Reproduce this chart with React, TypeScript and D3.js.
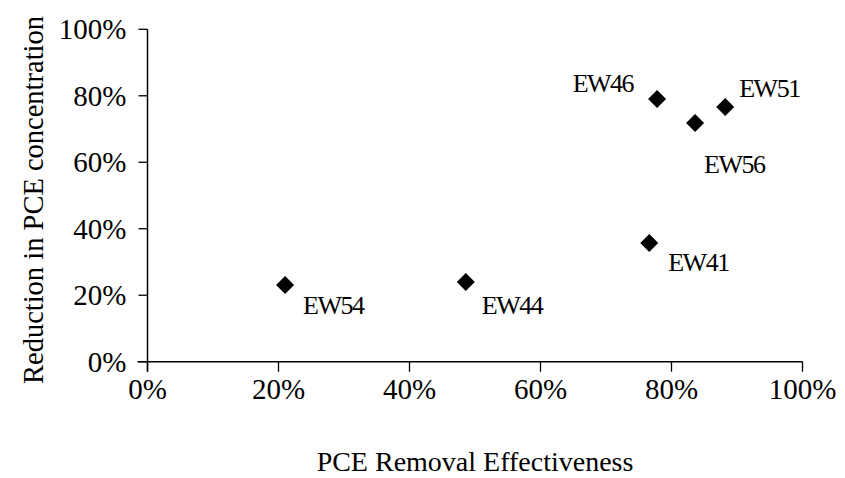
import React from "react";
import * as d3 from "d3";

// well names and their measured values (fractions)
const wells = ["EW54", "EW44", "EW41", "EW46", "EW56", "EW51"];
const removal = [0.21, 0.486, 0.766, 0.778, 0.836, 0.882];
const reduction = [0.231, 0.24, 0.357, 0.79, 0.718, 0.766];
// label offsets [dx, dy] relative to the marker, anchor
const labelPos: [number, number, string][] = [
    [18, 20, "start"],
    [16, 23, "start"],
    [19, 19, "start"],
    [-24, -16, "end"],
    [9, 41, "start"],
    [14, -19, "start"],
];
const xTicks = [0, 0.2, 0.4, 0.6, 0.8, 1];
const yTicks = [0, 0.2, 0.4, 0.6, 0.8, 1];

const W = 845;
const H = 478;
const font = "'Liberation Serif', 'Times New Roman', serif";

export default function App() {
    const x = d3.scaleLinear().domain([0, 1]).range([147.5, 802.5]);
    const y = d3.scaleLinear().domain([0, 1]).range([361.7, 29.3]);
    const fmt = d3.format(".0%");
    const diamond = d3.symbol(d3.symbolSquare, 162)() as string;

    return (
        <svg width={W} height={H} style={{ position: "absolute", left: 0, top: 0, background: "#fff" }} fontFamily={font}>
            <rect width={W} height={H} fill="#fff" />
            {/* axes */}
            <line x1={x(0) - 10} x2={x(1)} y1={y(0)} y2={y(0)} stroke="#000" strokeWidth={1.5} />
            <line x1={x(0)} x2={x(0)} y1={y(1)} y2={y(0) + 10} stroke="#000" strokeWidth={1.5} />
            {xTicks.map((t) => (
                <g key={"x" + t}>
                    <line x1={x(t)} x2={x(t)} y1={y(0)} y2={y(0) + 10} stroke="#000" strokeWidth={1.3} />
                    <text x={x(t)} y={y(0) + 27} dy="0.35em" textAnchor="middle" fontSize={29}>
                        {fmt(t)}
                    </text>
                </g>
            ))}
            {yTicks.map((t) => (
                <g key={"y" + t}>
                    <line x1={x(0) - 9} x2={x(0)} y1={y(t)} y2={y(t)} stroke="#000" strokeWidth={1.3} />
                    <text x={x(0) - 21} y={y(t)} dy="0.35em" textAnchor="end" fontSize={29}>
                        {fmt(t)}
                    </text>
                </g>
            ))}
            {/* points */}
            {wells.map((w, i) => (
                <g key={w} transform={`translate(${x(removal[i])},${y(reduction[i])})`}>
                    <path d={diamond} transform="rotate(45)" fill="#000" />
                    <text
                        x={labelPos[i][0]}
                        y={labelPos[i][1]}
                        dy="0.35em"
                        textAnchor={labelPos[i][2]}
                        fontSize={26}
                        letterSpacing={-1.5}
                    >
                        {w}
                    </text>
                </g>
            ))}
            {/* axis titles */}
            <text x={475} y={461} dy="0.35em" textAnchor="middle" fontSize={28}>
                PCE Removal Effectiveness
            </text>
            <text transform={`translate(33,200) rotate(-90)`} dy="0.35em" textAnchor="middle" fontSize={28.5}>
                Reduction in PCE concentration
            </text>
        </svg>
    );
}
